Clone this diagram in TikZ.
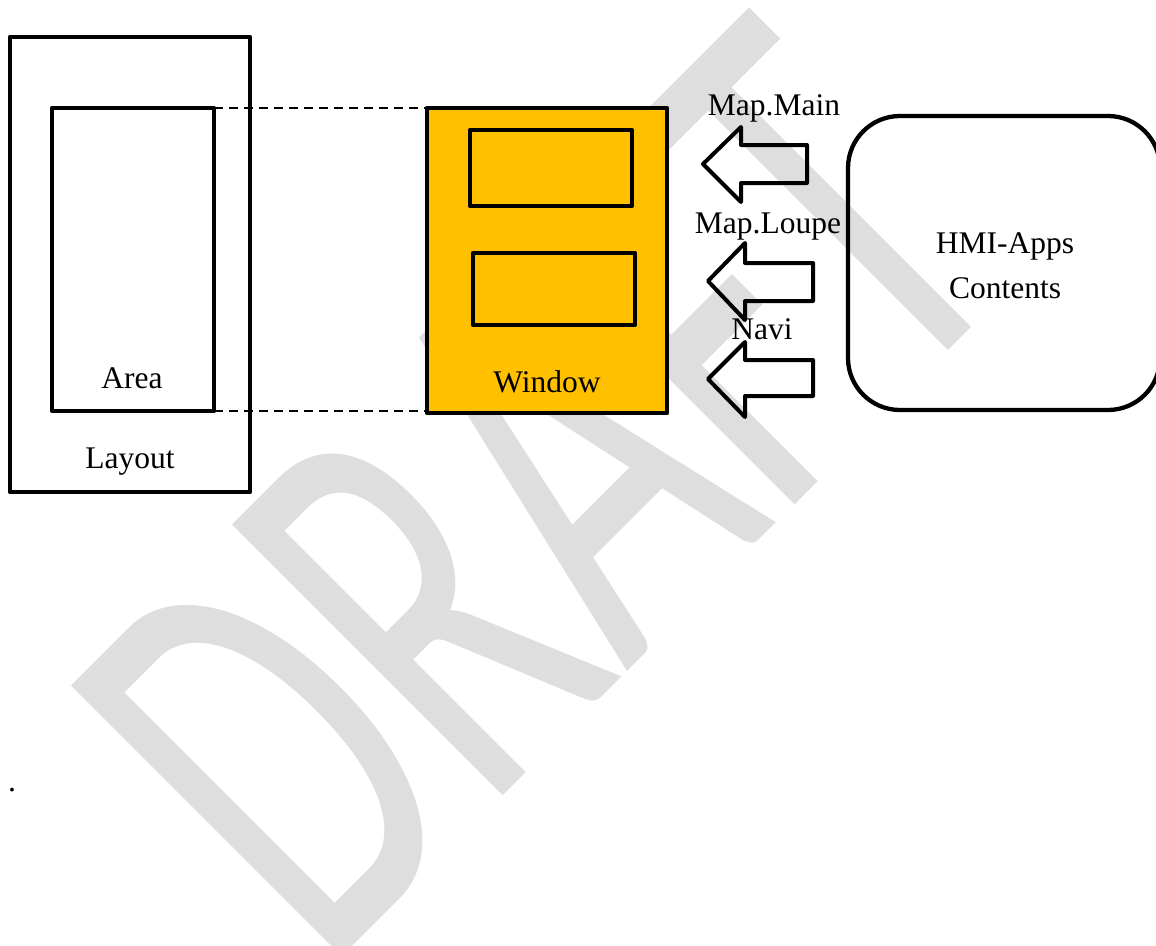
\documentclass[tikz,border=0pt]{standalone}
\usepackage{fontspec}
\setmainfont{Liberation Serif}
\newfontfamily\wmfont{Carlito}
\definecolor{winorange}{HTML}{FFC000}
\definecolor{wmgray}{HTML}{DEDEDE}
\begin{document}
\begin{tikzpicture}[x=1pt,y=-1pt,
  box/.style={draw, line width=4.3pt, line join=round, inner sep=0pt, outer sep=0pt},
  lbl/.style={font=\fontsize{31.5}{36}\selectfont, inner sep=0pt},
  blockarrow/.style={draw, line width=4pt, line join=round},
  link/.style={draw, line width=1.5pt, dash pattern=on 9pt off 6pt}]
\useasboundingbox (0,0) rectangle (1156,945);
% watermark
\begin{scope}[shift={(324.5,974.5)}, rotate=45, xscale=0.617, transform shape]
  \node[anchor=base west, inner sep=0pt, text=wmgray, font=\wmfont\fontsize{597}{597}\selectfont] (wm) at (0,0) {DRAFT};
\end{scope}
% boxes
\node[box, minimum width=240pt, minimum height=455pt] (layout) at (130,264.5) {};
\node[box, minimum width=162pt, minimum height=303pt] (area) at (133,259.5) {};
\node[box, fill=winorange, minimum width=240pt, minimum height=305pt] (window) at (547,260.5) {};
\node[box, minimum width=162pt, minimum height=76pt] (inner1) at (551,168) {};
\node[box, minimum width=162pt, minimum height=72pt] (inner2) at (554,289) {};
\node[box, rounded corners=52pt, minimum width=312pt, minimum height=294pt] (hmi) at (1004,263) {};
% labels
\node[lbl, anchor=base] (arealbl) at (132,388) {Area};
\node[lbl, anchor=base] (layoutlbl) at (130,468) {Layout};
\node[lbl, anchor=base] (windowlbl) at (547,392) {Window};
\node[lbl, anchor=base] (mapmain) at (774,115) {Map.Main};
\node[lbl, anchor=base] (maploupe) at (768,233) {Map.Loupe};
\node[lbl, anchor=base] (navi) at (762,339) {Navi};
\node[lbl, anchor=base] (hmiA) at (1005,253) {HMI-Apps};
\node[lbl, anchor=base] (hmiB) at (1005,298) {Contents};
\node[lbl, anchor=base] (dot) at (12,791) {.};
% dashed links
\draw[link] (area.north east) -- (area.north east -| window.west);
\draw[link] (area.south east) -- (area.south east -| window.west);
% block arrows
\draw[blockarrow] (703,164) -- (741,127) -- (741,145) -- (807,145) -- (807,183) -- (741,183) -- (741,202) -- cycle;
\draw[blockarrow] (708,281) -- (745,243) -- (745,263) -- (813,263) -- (813,301) -- (745,301) -- (745,320) -- cycle;
\draw[blockarrow] (708,379) -- (745,342) -- (745,360) -- (813,360) -- (813,396) -- (745,396) -- (745,417) -- cycle;
\end{tikzpicture}
\end{document}
